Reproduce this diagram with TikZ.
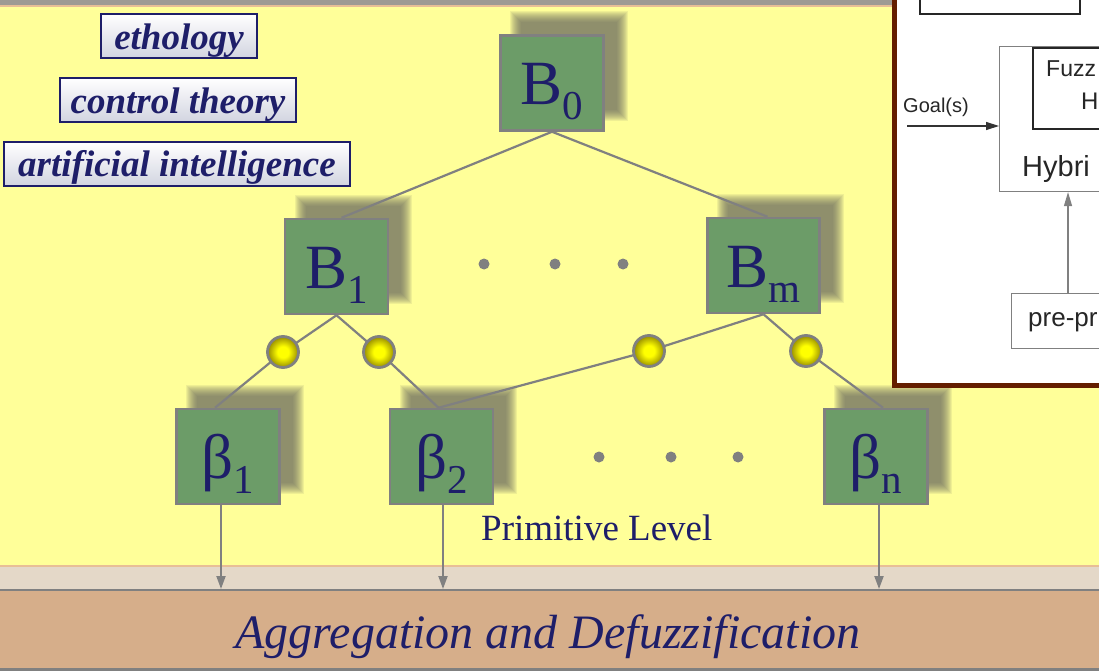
\documentclass[tikz,border=0pt]{standalone}
\usepackage{fontspec}
\setmainfont{Liberation Serif}
\newfontfamily\sansf{Liberation Sans}
\usetikzlibrary{calc,arrows.meta}
\definecolor{yellowbg}{RGB}{255,255,153}
\definecolor{topgray}{RGB}{158,154,148}
\definecolor{peach}{RGB}{232,190,150}
\definecolor{beige}{RGB}{228,216,200}
\definecolor{tanbar}{RGB}{214,174,138}
\definecolor{linegray}{RGB}{128,128,128}
\definecolor{boxgreen}{RGB}{108,156,104}
\definecolor{navy}{RGB}{30,30,105}
\definecolor{shadowc}{RGB}{105,105,95}
\definecolor{panelbrown}{RGB}{100,30,0}
\definecolor{ballin}{RGB}{255,255,0}
\definecolor{ballout}{RGB}{150,140,0}
\definecolor{lblbottom}{RGB}{210,212,224}
\pgfdeclareradialshading{myball}{\pgfpoint{0bp}{0bp}}{color(0bp)=(ballin); color(9bp)=(ballin); color(25bp)=(ballout); color(50bp)=(ballout)}
\pgfdeclarelayer{back}
\pgfdeclarelayer{shade}
\pgfdeclarelayer{lines}
\pgfdeclarelayer{front}
\pgfsetlayers{back,shade,lines,main,front}
\newcommand\Bsub[2]{#1\raisebox{-15pt}{\fontsize{41}{41}\selectfont #2}}
\newcommand\dropshadow[1]{\foreach \d in {6,5,...,-5}{\fill[shadowc,opacity=0.1] ($(#1.north west)+({17-(\d)},{-17-(\d)})$) rectangle ($(#1.south east)+({17+(\d)},{-17+(\d)})$);}}
\tikzset{
  bbox/.style={draw=linegray, line width=2.5pt, fill=boxgreen, minimum width=103pt, minimum height=95pt,
    inner sep=0pt, text height=44pt, text depth=0pt, font=\fontsize{63}{63}\selectfont, text=navy},
  ball/.style={circle, minimum size=31pt, inner sep=0pt, draw=linegray, line width=2.8pt, shading=myball, shade},
  conn/.style={draw=linegray, line width=2.2pt},
  arr/.style={draw=linegray, line width=2pt, -{Triangle[length=13pt,width=9pt]}, fill=linegray},
  dotn/.style={circle, fill=linegray, minimum size=11pt, inner sep=0pt},
  lbl/.style={draw=navy, line width=2pt, top color=white, bottom color=lblbottom, minimum height=44pt, inner sep=0pt,
    text height=28pt, text depth=0pt, font=\fontsize{37}{37}\selectfont\bfseries\itshape, text=navy},
  pbox/.style={draw=gray, line width=1.1pt, inner sep=0pt, anchor=north west},
  ptext/.style={anchor=base west, inner sep=0pt, text=black!85},
}
\begin{document}
\begin{tikzpicture}[x=1pt,y=-1pt]
\useasboundingbox (0,0) rectangle (1099,671);
\begin{pgfonlayer}{back}
  \fill[yellowbg] (0,0) rectangle (1099,566);
  \fill[topgray] (0,0) rectangle (1099,5);
  \fill[peach] (0,5) rectangle (1099,7);
  \fill[peach] (0,564.5) rectangle (1099,567);
  \fill[beige] (0,567) rectangle (1099,589);
  \fill[linegray] (0,588.5) rectangle (1099,591);
  \fill[tanbar] (0,591) rectangle (1099,668);
  \fill[linegray] (0,668) rectangle (1099,671);
\end{pgfonlayer}

% boxes
\node[bbox] (B0) at (552,83) {\Bsub{B}{0}};
\node[bbox] (B1) at (336.5,266.5) {\Bsub{B}{1}};
\node[bbox, minimum width=112pt] (Bm) at (763.5,265.5) {\Bsub{B}{m}};
\node[bbox] (b1) at (228,456.5) {\Bsub{β}{1}};
\node[bbox] (b2) at (441.5,456.5) {\Bsub{β}{2}};
\node[bbox] (bn) at (876,456.5) {\Bsub{β}{n}};

\begin{pgfonlayer}{shade}
  \dropshadow{B0}\dropshadow{B1}\dropshadow{Bm}\dropshadow{b1}\dropshadow{b2}\dropshadow{bn}
\end{pgfonlayer}

% circles
\node[ball] (c1) at (283,352) {};
\node[ball] (c2) at (379,352) {};
\node[ball] (c3) at (649,351) {};
\node[ball] (c4) at (806,351) {};

\begin{pgfonlayer}{lines}
  \draw[conn] (B0.south) -- ($(B1.north)+(5,0)$);
  \draw[conn] (B0.south) -- ($(Bm.north)+(4,0)$);
  \draw[conn] (B1.south) -- (c1.center) -- ($(b1.north)+(-13,0)$);
  \draw[conn] (B1.south) -- (c2.center) -- ($(b2.north)+(-3,0)$);
  \draw[conn] (Bm.south) -- (c3.center) -- ($(b2.north)+(-3,0)$);
  \draw[conn] (Bm.south) -- (c4.center) -- ($(bn.north)+(7,0)$);
\end{pgfonlayer}

% dots
\node[dotn] (d1) at (484,264) {};
\node[dotn] (d2) at (555,264) {};
\node[dotn] (d3) at (623,264) {};
\node[dotn] (d4) at (599,457) {};
\node[dotn] (d5) at (671,457) {};
\node[dotn] (d6) at (738,457) {};

% arrows to aggregation bar
\coordinate (a1) at (221,589);
\coordinate (a2) at (443,589);
\coordinate (a3) at (879,589);
\draw[arr] (b1.south -| a1) -- (a1);
\draw[arr] (b2.south -| a2) -- (a2);
\draw[arr] (bn.south -| a3) -- (a3);

% texts
\node[anchor=base west, inner sep=0pt, text=navy, font=\fontsize{37}{37}\selectfont] (prim) at (481,540) {Primitive Level};
\node[anchor=base, inner sep=0pt, text=navy, font=\fontsize{48}{48}\selectfont\itshape] (agg) at (548,648) {Aggregation and Defuzzification};

% left labels
\node[lbl, minimum width=156pt] (eth) at (179,36) {ethology};
\node[lbl, minimum width=236pt] (ctl) at (178,100) {control theory};
\node[lbl, minimum width=346pt, text height=26pt] (ai) at (177,164) {artificial intelligence};

% inset panel
\begin{pgfonlayer}{front}
  \fill[white] (894.5,-5) rectangle (1105,385.5);
  \begin{scope}
    \clip (897,0) rectangle (1099,383);
    \draw[black!85, line width=2pt] (920,-10) rectangle (1080,14);
    \node[pbox, minimum width=120pt, minimum height=145pt] (hyb) at (999,46) {};
    \node[pbox, draw=black!85, line width=2pt, minimum width=100pt, minimum height=81pt] (fuz) at (1032,47) {};
    \node[pbox, minimum width=110pt, minimum height=55pt] (pre) at (1011,293) {};
    \node[ptext, font=\sansf\fontsize{23}{23}\selectfont] (t1) at (1046,77) {Fuzz};
    \node[ptext, font=\sansf\fontsize{24}{24}\selectfont] (t2) at (1081,110) {H};
    \node[ptext, font=\sansf\fontsize{29}{29}\selectfont] (t3) at (1022,177) {Hybri};
    \node[ptext, font=\sansf\fontsize{26}{26}\selectfont] (t4) at (1028,326) {pre-pr};
    \node[ptext, font=\sansf\fontsize{20}{20}\selectfont] (goal) at (903,113) {Goal(s)};
    \coordinate (g0) at (907,126);
    \draw[line width=1.3pt, black!80, -{Triangle[length=13pt,width=8pt]}] (g0) -- (g0 -| hyb.west);
    \coordinate (v0) at (1068,293);
    \draw[line width=1.2pt, gray, -{Triangle[length=14pt,width=8pt]}, fill=black] (v0) -- (v0 |- hyb.south);
  \end{scope}
  \draw[panelbrown, line width=5pt] (894.5,-5) -- (894.5,385.5) -- (1105,385.5);
\end{pgfonlayer}
\end{tikzpicture}
\end{document}
